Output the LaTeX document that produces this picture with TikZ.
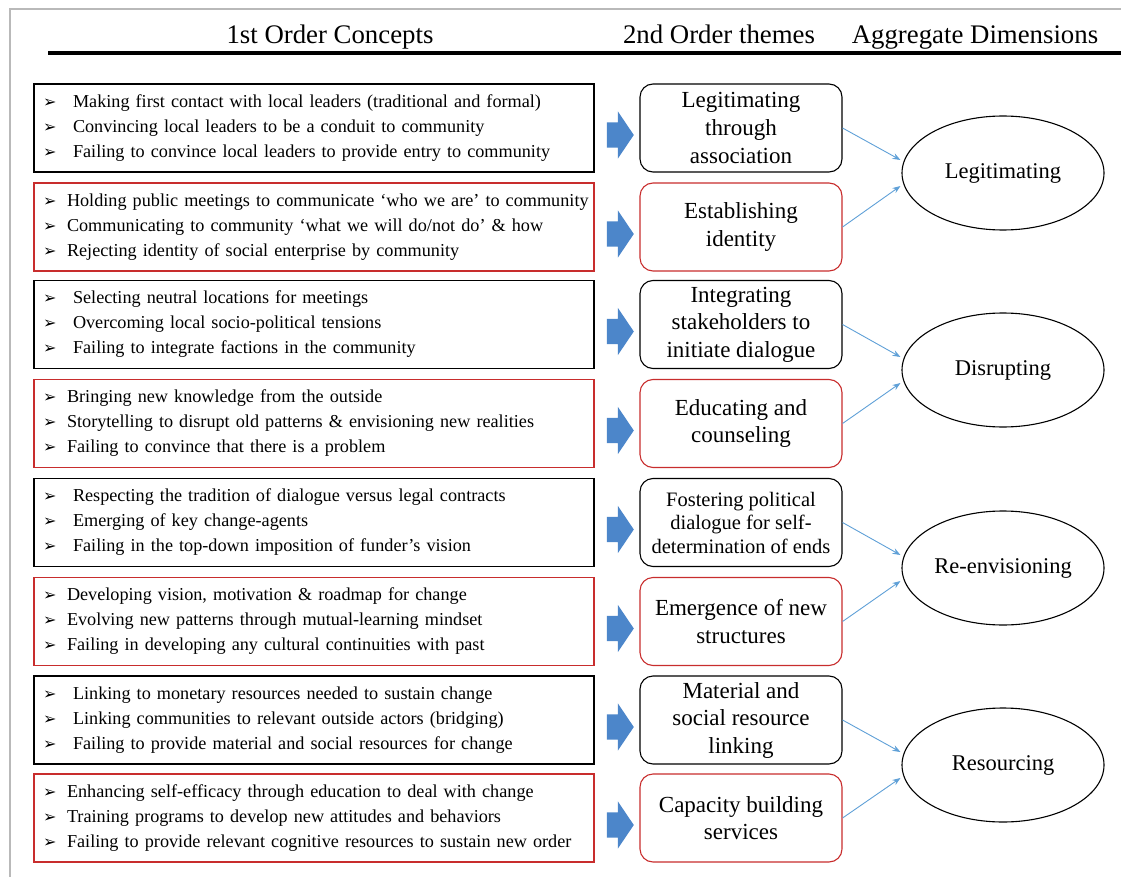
\documentclass[tikz,border=0pt]{standalone}
\usepackage{fontspec}
\setmainfont{Liberation Serif}
\newfontfamily\dingfont{DejaVu Sans}
\usetikzlibrary{shapes.geometric,shapes.arrows,arrows.meta,calc}
\definecolor{boxred}{RGB}{200,45,45}
\definecolor{arrowblue}{RGB}{76,134,202}
\definecolor{linkblue}{RGB}{95,160,215}
\definecolor{framegray}{RGB}{185,185,185}
\newcommand{\itm}[2][30pt]{\mbox{\makebox[#1][l]{\dingfont\fontsize{16}{16}\selectfont\char"27A2}#2}}
\begin{document}
\begin{tikzpicture}[x=1pt,y=-1pt]
			\tikzstyle{concept}=[draw, line width=1.1pt, minimum height=88pt, inner xsep=9pt, inner ysep=0pt, text width=542pt, align=left, font=\fontsize{18.2}{25}\selectfont]
			\tikzstyle{theme}=[draw, rounded corners=13pt, line width=1.1pt, minimum width=202pt, minimum height=88pt, inner sep=0pt, align=center, font=\fontsize{23}{27.5}\selectfont]
			\tikzstyle{dimension}=[draw, ellipse, line width=1.1pt, minimum width=202pt, minimum height=114pt, inner sep=0pt, font=\fontsize{22.5}{27}\selectfont]
			\tikzstyle{blockarr}=[single arrow, fill=arrowblue, minimum height=27pt, single arrow head extend=11pt, single arrow tip angle=112, inner xsep=0pt, inner ysep=12.5pt]
			\tikzstyle{feed}=[draw=linkblue, line width=0.9pt, -{Stealth[length=8pt,width=6pt]}]
			\tikzstyle{header}=[anchor=base, font=\fontsize{26.8}{32}\selectfont]
			\useasboundingbox (0,0) rectangle (1121,877);
			\draw [framegray, line width=1.5pt] (10,877) -- (10,9) -- (1121,9);
			\node [header] (h1) at (330,44) {1st Order Concepts};
			\node [header] (h2) at (719,44) {2nd Order themes};
			\node [header] (h3) at (975,44) {Aggregate Dimensions};
			\draw [line width=4pt] (48,53) -- (1121,53);
			\node [concept] (c1) at (314,128) {\itm{Making first contact with local leaders (traditional and formal)}\\\itm{Convincing local leaders to be a conduit to community}\\\itm{Failing to convince local leaders to provide entry to community}};
			\node [concept, draw=boxred] (c2) at (314,227) {\itm[24pt]{Holding public meetings to communicate ‘who we are’ to community}\\\itm[24pt]{Communicating to community ‘what we will do/not do’ \& how}\\\itm[24pt]{Rejecting identity of social enterprise by community}};
			\node [concept] (c3) at (314,324.5) {\itm{Selecting neutral locations for meetings}\\\itm{Overcoming local socio-political tensions}\\\itm{Failing to integrate factions in the community}};
			\node [concept, draw=boxred] (c4) at (314,423.5) {\itm[24pt]{Bringing new knowledge from the outside}\\\itm[24pt]{Storytelling to disrupt old patterns \& envisioning new realities}\\\itm[24pt]{Failing to convince that there is a problem}};
			\node [concept] (c5) at (314,522.5) {\itm{Respecting the tradition of dialogue versus legal contracts}\\\itm{Emerging of key change-agents}\\\itm{Failing in the top-down imposition of funder’s vision}};
			\node [concept, draw=boxred] (c6) at (314,621.5) {\itm[24pt]{Developing vision, motivation \& roadmap for change}\\\itm[24pt]{Evolving new patterns through mutual-learning mindset}\\\itm[24pt]{Failing in developing any cultural continuities with past}};
			\node [concept] (c7) at (314,720) {\itm{Linking to monetary resources needed to sustain change}\\\itm{Linking communities to relevant outside actors (bridging)}\\\itm{Failing to provide material and social resources for change}};
			\node [concept, draw=boxred] (c8) at (314,818) {\itm[24pt]{Enhancing self-efficacy through education to deal with change}\\\itm[24pt]{Training programs to develop new attitudes and behaviors}\\\itm[24pt]{Failing to provide relevant cognitive resources to sustain new order}};
			\node [blockarr] (a1) at (616,135) {};
			\node [blockarr] (a2) at (616,234) {};
			\node [blockarr] (a3) at (616,331.5) {};
			\node [blockarr] (a4) at (616,430.5) {};
			\node [blockarr] (a5) at (616,529.5) {};
			\node [blockarr] (a6) at (616,628.5) {};
			\node [blockarr] (a7) at (616,727) {};
			\node [blockarr] (a8) at (616,825) {};
			\node [theme] (t1) at (741,128) {Legitimating\\through\\association};
			\node [theme, draw=boxred] (t2) at (741,227) {Establishing\\identity};
			\node [theme] (t3) at (741,324.5) {Integrating\\stakeholders to\\initiate dialogue};
			\node [theme, draw=boxred] (t4) at (741,423.5) {Educating and\\counseling};
			\node [theme, font=\fontsize{20.5}{23.5}\selectfont] (t5) at (741,522.5) {Fostering political\\dialogue for self-\\determination of ends};
			\node [theme, draw=boxred] (t6) at (741,621.5) {Emergence of new\\structures};
			\node [theme] (t7) at (741,720) {Material and\\social resource\\linking};
			\node [theme, draw=boxred] (t8) at (741,818) {Capacity building\\services};
			\node [dimension] (d1) at (1003,173) {Legitimating};
			\node [dimension] (d2) at (1003,370) {Disrupting};
			\node [dimension] (d3) at (1003,568) {Re-envisioning};
			\node [dimension] (d4) at (1003,765) {Resourcing};
			\draw [feed] (t1.east) -- ($(d1.west)+(-1,-13)$);
			\draw [feed] (t2.east) -- ($(d1.west)+(-1,13)$);
			\draw [feed] (t3.east) -- ($(d2.west)+(-1,-13)$);
			\draw [feed] (t4.east) -- ($(d2.west)+(-1,13)$);
			\draw [feed] (t5.east) -- ($(d3.west)+(-1,-13)$);
			\draw [feed] (t6.east) -- ($(d3.west)+(-1,13)$);
			\draw [feed] (t7.east) -- ($(d4.west)+(-1,-13)$);
			\draw [feed] (t8.east) -- ($(d4.west)+(-1,13)$);
\end{tikzpicture}
\end{document}
